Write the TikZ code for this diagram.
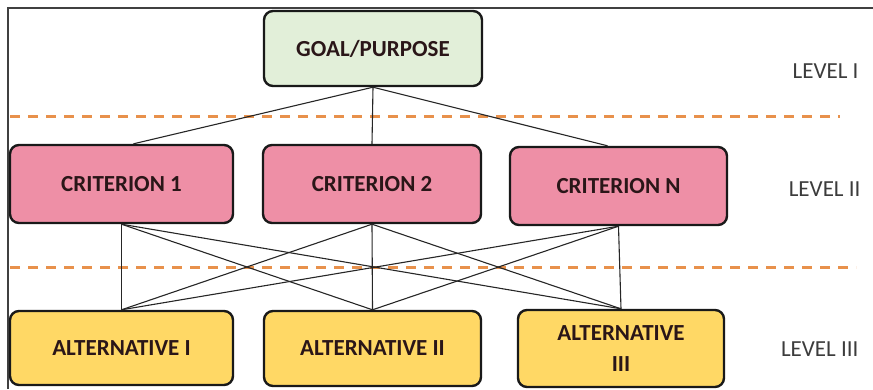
\documentclass[tikz,border=0pt]{standalone}
\usepackage{fontspec}
\setmainfont{Carlito}
\usetikzlibrary{calc}
\definecolor{goalfill}{HTML}{E2EFD9}
\definecolor{critfill}{HTML}{EE8FA6}
\definecolor{altfill}{HTML}{FFD865}
\definecolor{boxtext}{HTML}{2A1618}
\definecolor{leveltext}{HTML}{3C3C3C}
\definecolor{dashorange}{HTML}{E8914C}
\begin{document}
\begin{tikzpicture}[x=1pt,y=-1pt,
  box/.style={draw=black!90, line width=2.4pt, rounded corners=9pt,
    inner sep=0pt, align=center, text=boxtext,
    font=\fontsize{23}{31}\selectfont\bfseries},
  goalbox/.style={box, fill=goalfill},
  critbox/.style={box, fill=critfill},
  altbox/.style={box, fill=altfill},
  link/.style={line width=1.1pt, black!85},
  divider/.style={dashorange, line width=3pt, dash pattern=on 10pt off 8pt},
  frame/.style={line width=1.6pt, black!75},
  levellabel/.style={anchor=east, text=leveltext, font=\fontsize{23}{26}\selectfont}]
\useasboundingbox (0,0) rectangle (873,389);

% outer frame (top and left edges)
\coordinate (fa) at (8,389);
\coordinate (fb) at (8,8);
\coordinate (fc) at (873,8);
\draw[frame] (fa) -- (fb) -- (fc);

% level dividers
\coordinate (d1a) at (10,116);
\coordinate (d1b) at (840,116);
\coordinate (d2a) at (10,267);
\coordinate (d2b) at (856,267);
\draw[divider] (d1a) -- (d1b);
\draw[divider] (d2a) -- (d2b);

% level I
\node[goalbox, minimum width=218pt, minimum height=75pt] (goal) at (373,48.5) {GOAL/PURPOSE};

% level II
\node[critbox, minimum width=223pt, minimum height=78pt] (crit1) at (121.5,184) {CRITERION 1};
\node[critbox, minimum width=218pt, minimum height=78pt] (crit2) at (372,184) {CRITERION 2};
\node[critbox, minimum width=217pt, minimum height=78pt] (critn) at (618.5,186) {CRITERION N};

% level III
\node[altbox, minimum width=223pt, minimum height=74pt] (alt1) at (121.5,348) {ALTERNATIVE I};
\node[altbox, minimum width=217pt, minimum height=75pt] (alt2) at (372.5,348.5) {ALTERNATIVE II};
\node[altbox, minimum width=206pt, minimum height=77pt] (alt3) at (621,348.5) {ALTERNATIVE\\III};

% level labels
\node[levellabel] (lv1) at (862,71) {LEVEL I};
\node[levellabel] (lv2) at (864,189) {LEVEL II};
\node[levellabel] (lv3) at (862,349) {LEVEL III};

% goal to criteria
\draw[link] (goal.south) -- ([xshift=12pt]crit1.north);
\draw[link] (goal.south) -- (crit2.north);
\draw[link] (goal.south) -- ([xshift=-11pt]critn.north);

% criteria to alternatives
\foreach \c in {crit1,crit2,critn}
  \foreach \a in {alt1,alt2,alt3}
    \draw[link] (\c.south) -- (\a.north);
\end{tikzpicture}
\end{document}
